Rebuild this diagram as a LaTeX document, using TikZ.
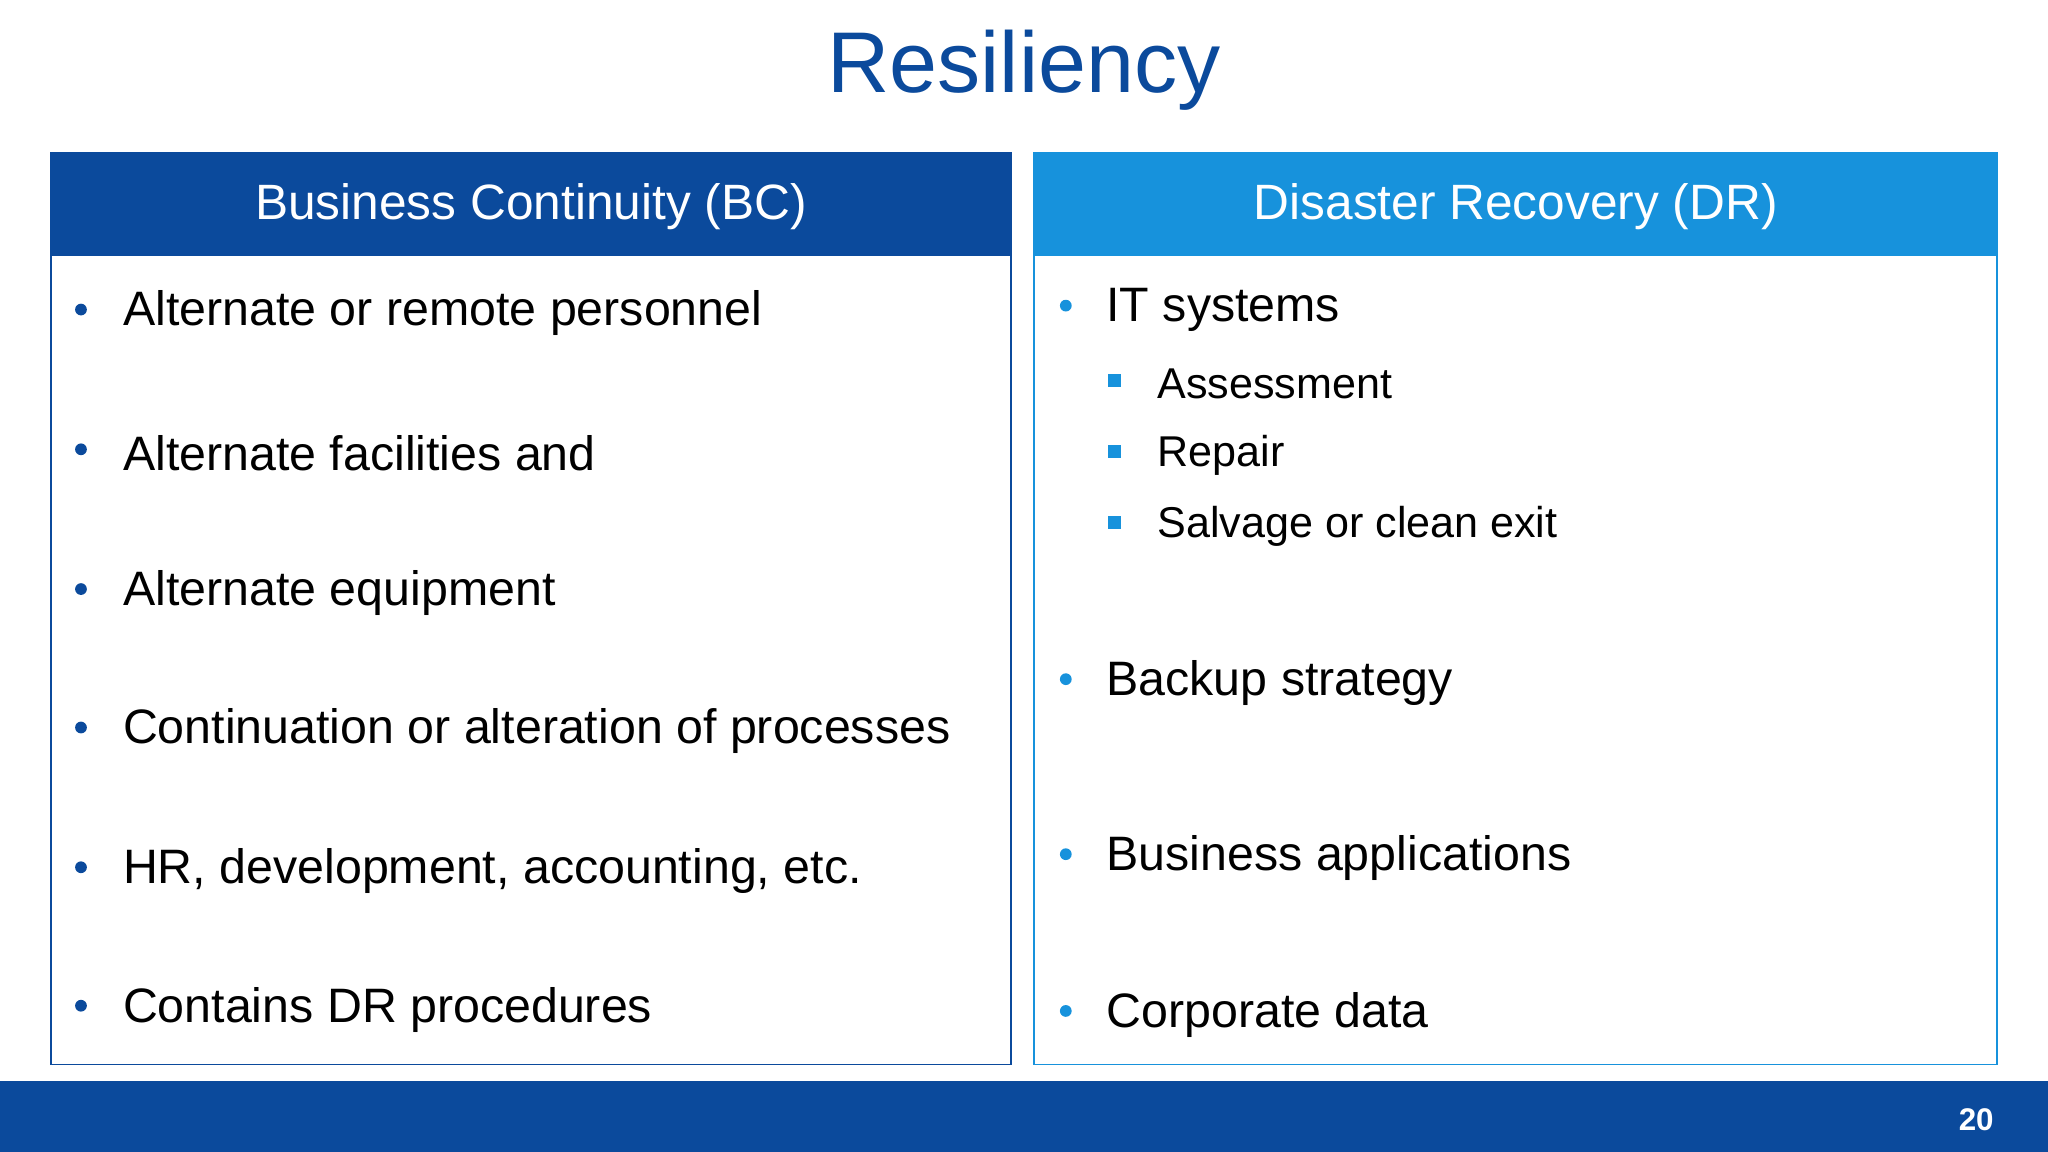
\documentclass[tikz,border=0pt]{standalone}
\usepackage{fontspec}
\setmainfont{Liberation Sans}
\definecolor{dblue}{HTML}{0B4A9C}
\definecolor{lblue}{HTML}{1792DC}
\begin{document}
\begin{tikzpicture}[x=1pt,y=-1pt,
  item/.style={anchor=west,font=\fontsize{37}{40}\selectfont,text=black,inner sep=0},
  sub/.style={anchor=west,font=\fontsize{33}{36}\selectfont,text=black,inner sep=0},
  hdr/.style={text=white,font=\fontsize{38}{42}\selectfont}]
\useasboundingbox (0,0) rectangle (1568,882);
\fill[white] (0,0) rectangle (1568,882);
\node[text=dblue,font=\fontsize{66}{70}\selectfont] (title) at (784,54) {Resiliency};
% left box
\fill[dblue] (39,117) rectangle (774,196);
\draw[dblue,line width=1.5] (39,117) rectangle (774,815);
\node[hdr] (bc) at (406.5,158) {Business Continuity (BC)};
% right box
\fill[lblue] (792,117) rectangle (1529,196);
\draw[lblue,line width=1.5] (792,117) rectangle (1529,815);
\node[hdr] (dr) at (1160.5,158) {Disaster Recovery (DR)};
% left items
\foreach \y/\t [count=\i] in {240/Alternate or remote personnel,347/Alternate facilities and/or locations,454/Alternate equipment,560/Continuation or alteration of processes,667/{HR, development, accounting, etc.},773/Contains DR procedures}{
  \fill[dblue] (62,\y-3) circle (4.5);
  \node[item] (l\i) at (94,\y) {\t};
}
% right items
\foreach \y/\t [count=\i] in {237/IT systems,523/Backup strategy,657/Business applications,777/Corporate data}{
  \fill[lblue] (816,\y-3) circle (4.5);
  \node[item] (r\i) at (847,\y) {\t};
}
\foreach \y/\t [count=\i] in {294/Assessment,349/Repair,403/Salvage or clean exit}{
  \fill[lblue] (848,\y-8) rectangle (858,\y+2);
  \node[sub] (s\i) at (886,\y) {\t};
}
% bottom bar
\fill[dblue] (0,828) rectangle (1568,882);
\node[text=white,font=\fontsize{24}{26}\selectfont\bfseries] (pg) at (1513,857) {20};
\end{tikzpicture}
\end{document}
